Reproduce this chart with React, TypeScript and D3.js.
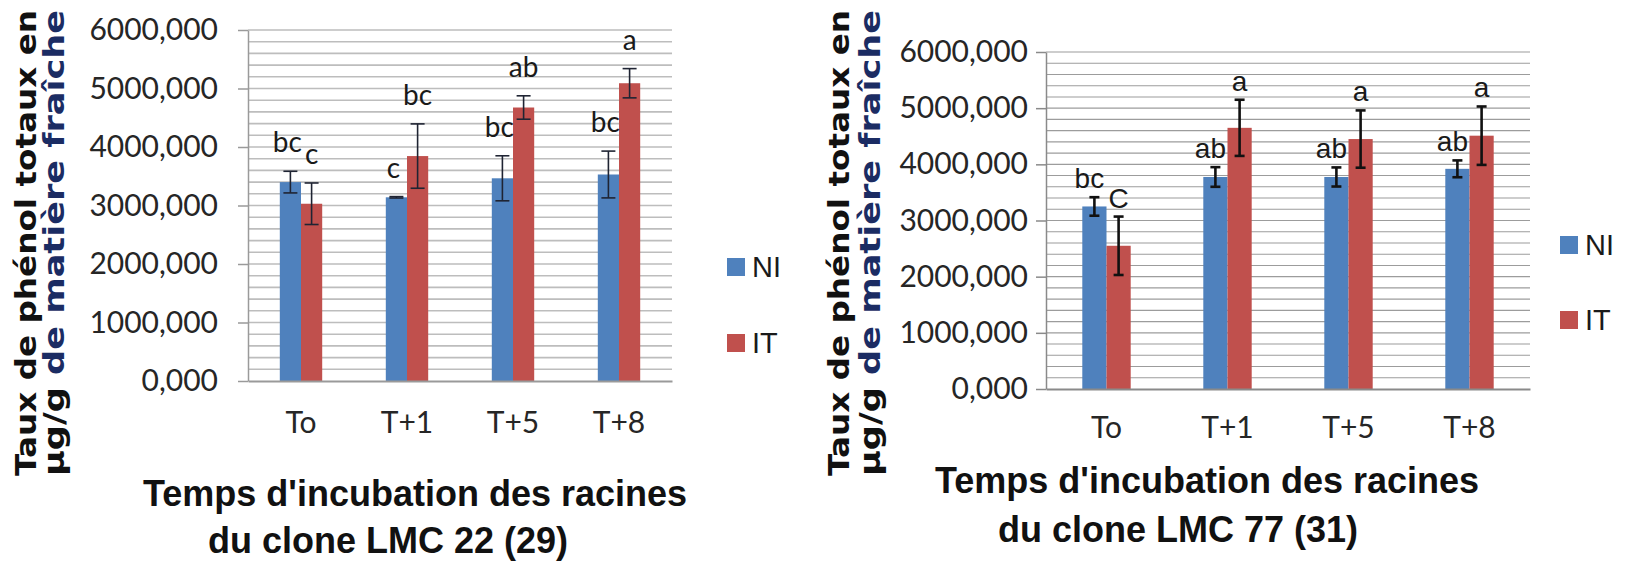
import React, { useEffect, useRef } from 'react';
import * as d3 from 'd3';

// categories / series
const categories = ['To', 'T+1', 'T+5', 'T+8'];
const seriesNames = ['NI', 'IT'];
const yTickValues = [0, 1000, 2000, 3000, 4000, 5000, 6000];
const yMax = 6000;
const gridStep = 200;

// clone LMC 22 (29)
const lmc22NI = [3400, 3140, 3465, 3530];
const lmc22NIErr = [185, 12, 385, 400];
const lmc22IT = [3030, 3845, 4675, 5090];
const lmc22ITErr = [355, 550, 200, 250];
const lmc22NILetters = ['bc', 'c', 'bc', 'bc'];
const lmc22ITLetters = ['c', 'bc', 'ab', 'a'];

// clone LMC 77 (31)
const lmc77NI = [3250, 3775, 3775, 3920];
const lmc77NIErr = [165, 175, 170, 150];
const lmc77IT = [2550, 4650, 4450, 4510];
const lmc77ITErr = [520, 500, 510, 520];
const lmc77NILetters = ['bc', 'ab', 'ab', 'ab'];
const lmc77ITLetters = ['C', 'a', 'a', 'a'];

const titleLine1 = "Temps d'incubation des racines";
const yTitle1 = 'Taux de phénol totaux en';
const yTitle2a = 'µg/g ';
const yTitle2b = 'de matière fraîche';

const colors: Record<string, string> = { NI: '#4F81BD', IT: '#C0504D' };

// french number format : 6000,000
const frLocale = d3.formatLocale({ decimal: ',', thousands: '', grouping: [3], currency: ['', ''] });
const fmt = frLocale.format('.3f');

const W = 1627;
const H = 561;

const panels = [
  {
    ni: lmc22NI, niErr: lmc22NIErr, it: lmc22IT, itErr: lmc22ITErr,
    niLetters: lmc22NILetters, itLetters: lmc22ITLetters,
    subtitle: 'du clone LMC 22 (29)',
    left: 248, right: 672, top: 30, bottom: 381,
    tickPad: 20, xPad: 31,
    gridColor: '#bdbdbd', gridWidth: 1.6, axisColor: '#9a9a9a',
    errColor: '#1f2433', errWidth: 1.6, capW: 14, labelGap: 19, niShift: -3,
    labelFont: 'Lato, sans-serif',
    yTitleX1: 26, yTitleX2: 54, yTitleCy: 243,
    legendX: 727, legendY1: 267, legendY2: 343,
    titleX1: 415, titleY1: 506, titleX2: 388, titleY2: 553,
  },
  {
    ni: lmc77NI, niErr: lmc77NIErr, it: lmc77IT, itErr: lmc77ITErr,
    niLetters: lmc77NILetters, itLetters: lmc77ITLetters,
    subtitle: 'du clone LMC 77 (31)',
    left: 1046, right: 1530, top: 52, bottom: 389,
    tickPad: 8, xPad: 28,
    gridColor: '#9c9c9c', gridWidth: 1.1, axisColor: '#8a8a8a',
    errColor: '#111', errWidth: 2.6, capW: 10, labelGap: 9, niShift: -5,
    labelFont: '"Liberation Sans", Arial, sans-serif',
    yTitleX1: 839, yTitleX2: 870, yTitleCy: 243,
    legendX: 1560, legendY1: 245, legendY2: 320,
    titleX1: 1207, titleY1: 493, titleX2: 1178, titleY2: 542,
  },
];

function drawPanel(root: any, p: any) {
  const g = root.append('g');
  const x = d3.scaleBand().domain(categories).range([p.left, p.right]).paddingInner(0.6).paddingOuter(0.3);
  const xs = d3.scaleBand().domain(seriesNames).range([0, x.bandwidth()]);
  const y = d3.scaleLinear().domain([0, yMax]).range([p.bottom, p.top]);

  // gridlines every 200
  g.append('g')
    .selectAll('line')
    .data(d3.range(gridStep, yMax + 1, gridStep))
    .join('line')
    .attr('x1', p.left).attr('x2', p.right)
    .attr('y1', (d: number) => y(d)).attr('y2', (d: number) => y(d))
    .attr('stroke', p.gridColor)
    .attr('stroke-width', p.gridWidth);

  // y axis
  const ya = g.append('g')
    .attr('transform', `translate(${p.left},0)`)
    .call(d3.axisLeft(y).tickValues(yTickValues).tickFormat(fmt as any).tickSize(10).tickSizeOuter(0).tickPadding(p.tickPad));
  ya.select('.domain').attr('stroke', p.axisColor).attr('stroke-width', 1.5);
  ya.selectAll('.tick line').attr('stroke', p.axisColor).attr('stroke-width', 1.5);
  ya.selectAll('.tick text')
    .attr('font-family', 'Lato, sans-serif')
    .attr('font-size', 30)
    .attr('fill', '#262626');

  // bars
  const bars: any[] = [];
  categories.forEach((c, i) => {
    bars.push({ c, s: 'NI', v: p.ni[i], e: p.niErr[i], l: p.niLetters[i] });
    bars.push({ c, s: 'IT', v: p.it[i], e: p.itErr[i], l: p.itLetters[i] });
  });
  const bx = (d: any) => (x(d.c) as number) + (xs(d.s) as number);
  const bw = xs.bandwidth();

  g.append('g')
    .selectAll('rect')
    .data(bars)
    .join('rect')
    .attr('x', bx)
    .attr('y', (d: any) => y(d.v))
    .attr('width', bw)
    .attr('height', (d: any) => y(0) - y(d.v))
    .attr('fill', (d: any) => colors[d.s]);

  // x axis
  const xa = g.append('g')
    .attr('transform', `translate(0,${p.bottom})`)
    .call(d3.axisBottom(x).tickSize(0).tickPadding(p.xPad));
  xa.select('.domain').attr('stroke', p.axisColor).attr('stroke-width', 2);
  xa.selectAll('.tick text')
    .attr('font-family', 'Lato, sans-serif')
    .attr('font-size', 30)
    .attr('fill', '#262626');

  // error bars
  const eg = g.append('g').attr('stroke', p.errColor).attr('stroke-width', p.errWidth);
  bars.forEach((d) => {
    const cx = bx(d) + bw / 2;
    eg.append('line').attr('x1', cx).attr('x2', cx).attr('y1', y(d.v + d.e)).attr('y2', y(d.v - d.e));
    eg.append('line').attr('x1', cx - p.capW / 2).attr('x2', cx + p.capW / 2).attr('y1', y(d.v + d.e)).attr('y2', y(d.v + d.e));
    eg.append('line').attr('x1', cx - p.capW / 2).attr('x2', cx + p.capW / 2).attr('y1', y(d.v - d.e)).attr('y2', y(d.v - d.e));
  });

  // letters (groupes statistiques)
  g.append('g')
    .selectAll('text')
    .data(bars)
    .join('text')
    .attr('x', (d: any) => bx(d) + bw / 2 + (d.s === 'NI' ? p.niShift : 0))
    .attr('y', (d: any) => y(d.v + d.e) - p.labelGap)
    .attr('text-anchor', 'middle')
    .attr('font-family', p.labelFont)
    .attr('font-size', 28)
    .attr('fill', '#1a1a1a')
    .text((d: any) => d.l);

  // legend
  const lg = g.append('g');
  seriesNames.forEach((s, i) => {
    const cy = i === 0 ? p.legendY1 : p.legendY2;
    lg.append('rect').attr('x', p.legendX).attr('y', cy - 9).attr('width', 18).attr('height', 18).attr('fill', colors[s]);
    lg.append('text')
      .attr('x', p.legendX + 25).attr('y', cy + 10)
      .attr('font-family', '"Liberation Sans", Arial, sans-serif')
      .attr('font-size', 29)
      .attr('fill', '#1a1a1a')
      .text(s);
  });

  // y title (2 lines, rotated)
  g.append('text')
    .attr('transform', `translate(${p.yTitleX1},${p.yTitleCy}) rotate(-90)`)
    .attr('text-anchor', 'middle')
    .attr('dominant-baseline', 'central')
    .attr('font-family', '"DejaVu Sans", sans-serif')
    .attr('font-weight', 'bold')
    .attr('font-size', 29)
    .attr('fill', '#111')
    .attr('textLength', 466)
    .attr('lengthAdjust', 'spacingAndGlyphs')
    .text(yTitle1);
  const yt2 = g.append('text')
    .attr('transform', `translate(${p.yTitleX2},${p.yTitleCy}) rotate(-90)`)
    .attr('text-anchor', 'middle')
    .attr('dominant-baseline', 'central')
    .attr('font-family', '"DejaVu Sans", sans-serif')
    .attr('font-weight', 'bold')
    .attr('font-size', 29)
    .attr('fill', '#111')
    .attr('textLength', 466)
    .attr('lengthAdjust', 'spacingAndGlyphs');
  yt2.append('tspan').text(yTitle2a);
  yt2.append('tspan').attr('fill', '#1b2c63').text(yTitle2b);

  // x title
  const tt = g.append('g')
    .attr('font-family', '"Liberation Sans", Arial, sans-serif')
    .attr('font-weight', 'bold')
    .attr('font-size', 36)
    .attr('fill', '#111')
    .attr('text-anchor', 'middle');
  tt.append('text').attr('x', p.titleX1).attr('y', p.titleY1).text(titleLine1);
  tt.append('text').attr('x', p.titleX2).attr('y', p.titleY2).text(p.subtitle);
}

export default function App() {
  const ref = useRef<SVGSVGElement>(null);

  useEffect(() => {
    const svg = d3.select(ref.current);
    svg.selectAll('*').remove();
    panels.forEach((p) => drawPanel(svg, p));
  }, []);

  return (
    <svg
      ref={ref}
      width={W}
      height={H}
      style={{ position: 'absolute', left: 0, top: 0, background: '#fff' }}
    />
  );
}
